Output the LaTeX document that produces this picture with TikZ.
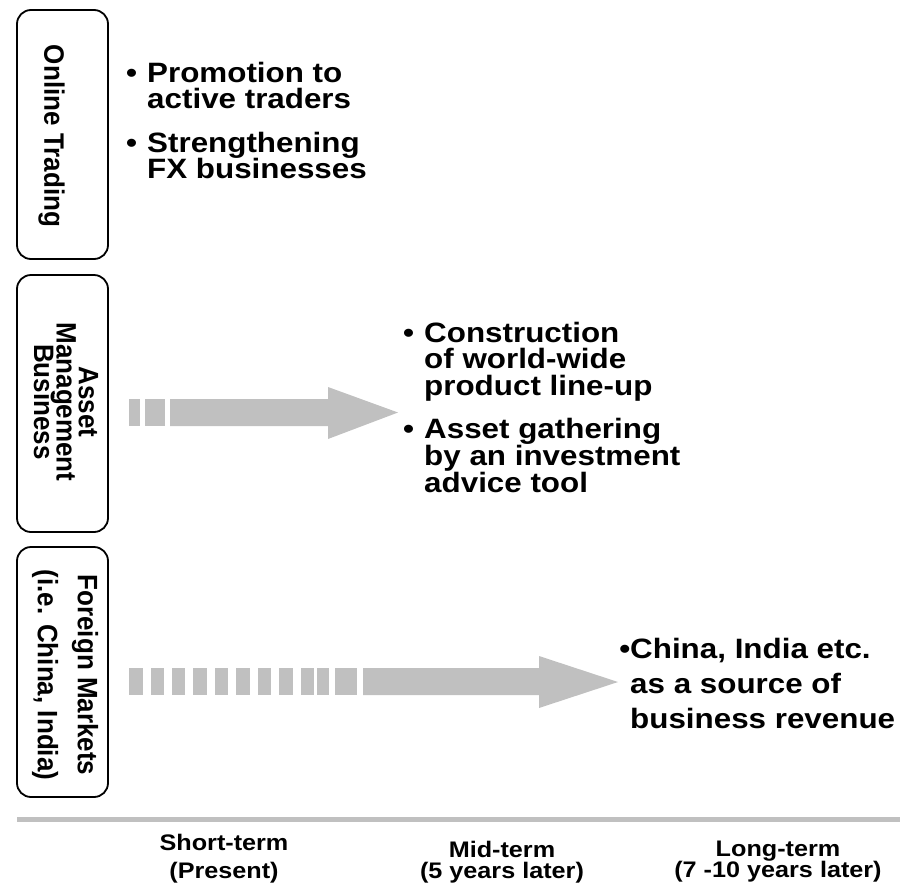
\documentclass[tikz,border=0pt]{standalone}
\usepackage{fontspec}
\setmainfont{Liberation Sans}
\definecolor{arrowgray}{HTML}{C0C0C0}
% allow lines to sit closer than their glyph extents
\newcommand\tightlines{\lineskiplimit=-100pt\relax\lineskip=0pt\relax}
\begin{document}
\begin{tikzpicture}[x=1pt,y=-1pt,
  catbox/.style={draw, line width=1.8pt, rounded corners=14pt, inner sep=0pt},
  cattext/.style={shift={#1}, xscale=1.08, rotate=-90, transform shape,
    anchor=north, inner sep=0pt, align=center},
  itemtext/.style={shift={#1}, xscale=1.12, transform shape,
    anchor=north west, inner sep=0pt, align=left},
  termtext/.style={shift={#1}, xscale=1.12, transform shape,
    anchor=north, inner sep=0pt, align=center},
  bandfill/.style={fill=arrowgray, draw=none}
]
\useasboundingbox (0,0) rectangle (900,889);

% category boxes on the left
\node[catbox, minimum width=91pt, minimum height=249pt] (online) at (62.5,134.5) {};
\node[catbox, minimum width=91pt, minimum height=257pt] (asset) at (62.5,403.5) {};
\node[catbox, minimum width=91pt, minimum height=250pt] (foreign) at (62.5,672) {};

\node[cattext={(65,136)}, font=\bfseries\fontsize{26}{20}\selectfont] (onlinelbl) at (0,0) {Online Trading};
\node[cattext={(98.5,402)}, font=\bfseries\fontsize{26}{20.8}\selectfont\tightlines]
  (assetlbl) at (0,0) {Asset\\Management\\Business};
\node[cattext={(98.5,675)}, font=\bfseries\fontsize{26}{37}\selectfont\tightlines]
  (foreignlbl) at (0,0) {Foreign Markets\\(i.e. China, India)};

% short-term items
\node[itemtext={(147,62)}, font=\bfseries\fontsize{28}{26}\selectfont\tightlines]
  (promo) at (0,0) {\llap{\textbullet\hspace{9pt}}Promotion to\\active traders};
\node[itemtext={(147,132)}, font=\bfseries\fontsize{28}{26}\selectfont\tightlines]
  (fx) at (0,0) {\llap{\textbullet\hspace{9pt}}Strengthening\\FX businesses};

% mid-term items
\node[itemtext={(424,322)}, font=\bfseries\fontsize{28}{26.5}\selectfont\tightlines]
  (lineup) at (0,0) {\llap{\textbullet\hspace{9pt}}Construction\\of world-wide\\product line-up};
\node[itemtext={(424,418)}, font=\bfseries\fontsize{28}{27}\selectfont\tightlines]
  (gather) at (0,0) {\llap{\textbullet\hspace{9pt}}Asset gathering\\by an investment\\advice tool};

% long-term item
\node[itemtext={(630,638)}, font=\bfseries\fontsize{28}{35}\selectfont\tightlines]
  (china) at (0,0) {\llap{\textbullet}China, India etc.\\as a source of\\business revenue};

% arrow towards the mid-term column
\foreach \a/\b in {129/140,145/165}
  \fill[bandfill] (\a,399) rectangle (\b,426);
\fill[bandfill] (170,399) -- (328,399) -- (328,387) -- (398,412.5)
  -- (328,439) -- (328,426) -- (170,426) -- cycle;

% arrow towards the long-term column
\foreach \a/\b in {129/143,151/164,172/185,193/207,215/228,236/250,258/271,279/293,301/314,317/329,335/357}
  \fill[bandfill] (\a,668) rectangle (\b,695);
\fill[bandfill] (363,668) -- (539,668) -- (539,656) -- (618,682)
  -- (539,708) -- (539,695) -- (363,695) -- cycle;

% time axis
\coordinate (axisL) at (17,819.5);
\coordinate (axisR) at (900,819.5);
\draw[arrowgray, line width=4.5pt] (axisL) -- (axisR);

\node[termtext={(224,834)}, font=\bfseries\fontsize{22.5}{28}\selectfont\tightlines]
  (short) at (0,0) {Short-term\\(Present)};
\node[termtext={(502,841)}, font=\bfseries\fontsize{22.5}{21}\selectfont\tightlines]
  (mid) at (0,0) {Mid-term\\(5 years later)};
\node[termtext={(778,841)}, font=\bfseries\fontsize{22.5}{21}\selectfont\tightlines]
  (long) at (0,0) {Long-term\\(7 -10 years later)};
\end{tikzpicture}
\end{document}
